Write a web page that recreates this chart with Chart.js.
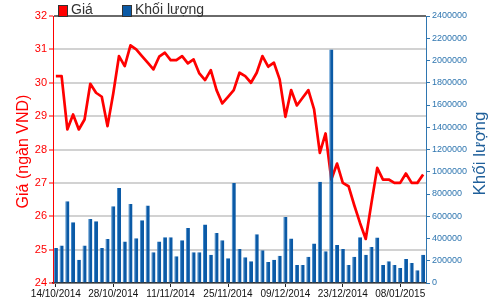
<!DOCTYPE html>
<html>
<head>
<meta charset="utf-8">
<script src="https://cdn.jsdelivr.net/npm/chart.js@4.4.1/dist/chart.umd.min.js"></script>
<style>
	body { margin: 0; background: #fff; }
	#wrap { position: relative; width: 500px; height: 300px; }
	.legend { position: absolute; top: 1px; font: 14px "Liberation Sans", Arial, sans-serif; color: #333; }
	.legend span.box { position: absolute; top: 4px; width: 8px; height: 10px; border: 1px solid #333; }
</style>
</head>
<body>
<div id="wrap">
	<canvas id="chart" width="500" height="300"></canvas>
	<div class="legend" style="left:58px"><span class="box" style="background:#ff0000"></span><span style="margin-left:13px">Giá</span></div>
	<div class="legend" style="left:122px"><span class="box" style="background:#0b5aa6"></span><span style="margin-left:13px">Khối lượng</span></div>
</div>
<script>
const dates = [
	"14/10/2014", "15/10/2014", "16/10/2014", "17/10/2014", "20/10/2014", "21/10/2014", "22/10/2014", "23/10/2014", "24/10/2014", "27/10/2014",
	"28/10/2014", "29/10/2014", "30/10/2014", "31/10/2014", "03/11/2014", "04/11/2014", "05/11/2014", "06/11/2014", "07/11/2014", "10/11/2014",
	"11/11/2014", "12/11/2014", "13/11/2014", "14/11/2014", "17/11/2014", "18/11/2014", "19/11/2014", "20/11/2014", "21/11/2014", "24/11/2014",
	"25/11/2014", "26/11/2014", "27/11/2014", "28/11/2014", "01/12/2014", "02/12/2014", "03/12/2014", "04/12/2014", "05/12/2014", "08/12/2014",
	"09/12/2014", "10/12/2014", "11/12/2014", "12/12/2014", "15/12/2014", "16/12/2014", "17/12/2014", "18/12/2014", "19/12/2014", "22/12/2014",
	"23/12/2014", "24/12/2014", "25/12/2014", "26/12/2014", "29/12/2014", "30/12/2014", "31/12/2014", "05/01/2015", "06/01/2015", "07/01/2015",
	"08/01/2015", "09/01/2015", "12/01/2015", "13/01/2015", "14/01/2015",
];

const prices = [
	30.2, 30.2, 28.6, 29.05, 28.6, 28.9, 29.97, 29.7, 29.58, 28.7,
	29.68, 30.8, 30.5, 31.12, 31.0, 30.8, 30.6, 30.4, 30.78, 30.9,
	30.68, 30.68, 30.8, 30.58, 30.7, 30.28, 30.08, 30.38, 29.78, 29.38,
	29.58, 29.78, 30.3, 30.2, 30.0, 30.3, 30.8, 30.48, 30.6, 30.1,
	28.98, 29.78, 29.32, 29.55, 29.78, 29.2, 27.9, 28.48, 27.1, 27.58,
	27.0, 26.9, 26.33, 25.8, 25.32, 26.4, 27.45, 27.1, 27.1, 27.0,
	27.0, 27.28, 27.0, 27.0, 27.25,
];

const volumes = [
	315000, 336000, 734000, 545000, 210000, 336000, 576000, 555000, 315000, 396000,
	690000, 855000, 372000, 711000, 402000, 564000, 696000, 276000, 372000, 411000,
	411000, 240000, 384000, 495000, 276000, 276000, 525000, 255000, 450000, 384000,
	222000, 900000, 306000, 231000, 195000, 438000, 294000, 189000, 210000, 246000,
	594000, 399000, 162000, 162000, 237000, 354000, 909000, 285000, 2100000, 342000,
	306000, 162000, 237000, 411000, 255000, 324000, 408000, 162000, 195000, 162000,
	135000, 216000, 180000, 114000, 255000,
];

const priceTitle = "Giá (ngàn VND)";
const volumeTitle = "Khối lượng";

const red = "#ff0000";
const blue = "#0b5aa6";
const axisBlue = "#2f76b0";
const sans = '"Liberation Sans", Arial, sans-serif';

// axis titles are drawn by hand so that both read bottom-to-top
const axisTitles = {
	id: "axisTitles",
	afterDraw(chart) {
		const ctx = chart.ctx;
		const mid = (chart.chartArea.top + chart.chartArea.bottom) / 2;
		ctx.save();
		ctx.textAlign = "center";
		ctx.textBaseline = "middle";
		ctx.font = "16px " + sans;
		ctx.fillStyle = red;
		ctx.translate(24, mid + 2);
		ctx.rotate(-Math.PI / 2);
		ctx.fillText(priceTitle, 0, 0);
		ctx.restore();

		ctx.save();
		ctx.textAlign = "center";
		ctx.textBaseline = "middle";
		ctx.font = "17px " + sans;
		ctx.fillStyle = "#1f5f9a";
		ctx.translate(480, mid + 4);
		ctx.rotate(-Math.PI / 2);
		ctx.fillText(volumeTitle, 0, 0);
		ctx.restore();
	},
};

new Chart(document.getElementById("chart"), {
	data: {
		labels: dates,
		datasets: [
			{
				type: "bar",
				label: "Khối lượng",
				data: volumes,
				yAxisID: "yVol",
				backgroundColor: blue,
				borderColor: "#3d86c9",
				borderWidth: { left: 1, right: 0, top: 0, bottom: 0 },
				borderSkipped: false,
				categoryPercentage: 1,
				barPercentage: 0.72,
				order: 1,
			},
			{
				type: "line",
				label: "Giá",
				data: prices,
				yAxisID: "yPrice",
				borderColor: red,
				borderWidth: 2.7,
				borderJoinStyle: "round",
				pointRadius: 0,
				tension: 0,
				order: 2,
			},
		],
	},
	options: {
		responsive: false,
		animation: false,
		layout: { padding: { top: 16, left: 0, right: 0, bottom: 0 } },
		plugins: {
			legend: { display: false },
			tooltip: { enabled: false },
		},
		scales: {
			x: {
				type: "category",
				offset: true,
				afterFit(scale) {
					scale.height = 17;
				},
				grid: {
					offset: false,
					drawOnChartArea: false,
					tickLength: 4,
					tickColor: (c) => (c.index % 10 === 0 ? "#222" : "rgba(0,0,0,0)"),
				},
				border: { color: "#333", width: 1.5 },
				ticks: {
					autoSkip: false,
					maxRotation: 0,
					padding: 1,
					color: "#111",
					font: { family: sans, size: 10 },
					callback: (val, i) => (i % 10 === 0 ? dates[i] : ""),
				},
			},
			yPrice: {
				position: "left",
				min: 24,
				max: 32,
				afterFit(scale) {
					scale.width = 53;
				},
				grid: {
					color: (c) => (c.tick && c.tick.value === 32 ? "#6a6a6a" : "#d2d2d2"),
					lineWidth: 2,
					tickColor: red,
					tickLength: 4,
					tickWidth: 1,
				},
				border: { color: red, width: 1 },
				ticks: {
					stepSize: 1,
					padding: 2,
					color: red,
					font: { family: sans, size: 11 },
				},
			},
			yVol: {
				position: "right",
				min: 0,
				max: 2400000,
				afterFit(scale) {
					scale.width = 74;
				},
				grid: {
					drawOnChartArea: false,
					tickColor: axisBlue,
					tickLength: 4,
				},
				border: { color: axisBlue, width: 1 },
				ticks: {
					stepSize: 200000,
					padding: 2,
					color: axisBlue,
					font: { family: sans, size: 9 },
					callback: (val) => String(val),
				},
			},
		},
	},
	plugins: [axisTitles],
});
</script>
</body>
</html>
